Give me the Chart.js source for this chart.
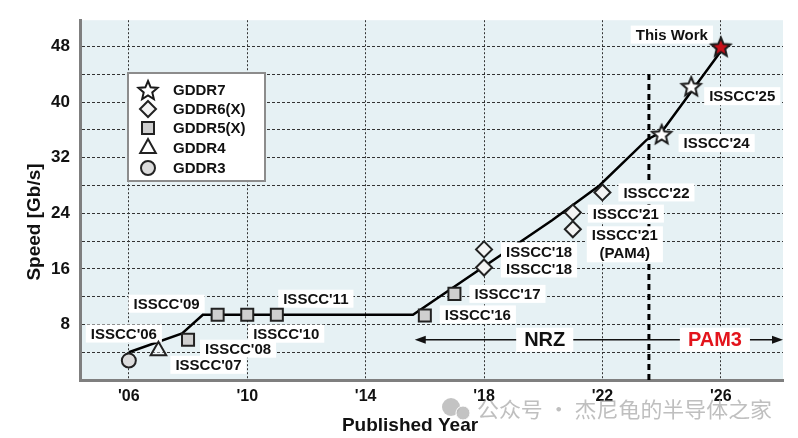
<!DOCTYPE html>
<html>
<head>
<meta charset="utf-8">
<script src="https://cdn.jsdelivr.net/npm/chart.js@4.4.1/dist/chart.umd.min.js"></script>
<style>
  html, body { margin: 0; padding: 0; background: #fff; }
</style>
</head>
<body>
<canvas id="myChart" width="798" height="438"></canvas>
<script>
// ---- data ----
const xTickYears = [2006, 2010, 2014, 2018, 2022, 2026]
const yTickValues = [4, 8, 12, 16, 20, 24, 28, 32, 36, 40, 44, 48]

const gddr3Years = [2006]
const gddr3Speed = [2.8]
const gddr3Labels = ["ISSCC'06"]

const gddr4Years = [2007]
const gddr4Speed = [4.2]
const gddr4Labels = ["ISSCC'07"]

const gddr5Years = [2008, 2009, 2010, 2011, 2016, 2017]
const gddr5Speed = [5.8, 9.4, 9.4, 9.4, 9.3, 12.4]
const gddr5Labels = ["ISSCC'08", "ISSCC'09", "ISSCC'10", "ISSCC'11", "ISSCC'16", "ISSCC'17"]

const gddr6Years = [2018, 2018, 2021, 2021, 2022]
const gddr6Speed = [18.8, 16.2, 24.1, 21.7, 27.0]
const gddr6Labels = ["ISSCC'18", "ISSCC'18", "ISSCC'21", "ISSCC'21\n(PAM4)", "ISSCC'22"]

const gddr7Years = [2024, 2025]
const gddr7Speed = [35.4, 42.3]
const gddr7Labels = ["ISSCC'24", "ISSCC'25"]

const thisWorkYears = [2026]
const thisWorkSpeed = [48]
const thisWorkLabels = ['This Work']

const trendYears = [2006, 2007.8, 2008.5, 2015.6, 2020.3, 2021.9, 2023.5, 2024.0, 2026.1]
const trendSpeed = [4.0, 6.7, 9.4, 9.4, 23.0, 28.0, 34.6, 35.7, 47.9]

const boundaryYears = [2023.57, 2023.57]
const boundarySpeed = [0, 44.6]

const regimeLabels = ['NRZ', 'PAM3']
const regimeCenters = [2020.05, 2025.8]
const regimeArrowFrom = 2015.66
const regimeArrowTo = 2028.1
const regimeArrowSpeed = 5.8

const legendNames = ['GDDR7', 'GDDR6(X)', 'GDDR5(X)', 'GDDR4', 'GDDR3']

// ---- styling ----
const FONT = '"Liberation Sans", Arial, sans-serif'
const canvas = document.getElementById('myChart')

function starPath(ctx, cx, cy, R, r) {
    ctx.beginPath()
    for (let i = 0; i < 10; i++) {
        const rad = i % 2 ? r : R
        const a = -Math.PI / 2 + i * Math.PI / 5
        const px = cx + rad * Math.cos(a), py = cy + rad * Math.sin(a)
        if (i === 0) ctx.moveTo(px, py); else ctx.lineTo(px, py)
    }
    ctx.closePath()
}

function makeStar(fill, R) {
    const c = document.createElement('canvas')
    const s = Math.ceil(R * 2 + 6)
    c.width = s; c.height = s
    const g = c.getContext('2d')
    starPath(g, s / 2, s / 2 + 1, R, R * 0.45)
    g.fillStyle = fill
    g.fill()
    g.lineWidth = 2
    g.strokeStyle = '#1a1a1a'
    g.stroke()
    return c
}

const whiteStar = makeStar('#ffffff', 10)
const redStar = makeStar('#c8101a', 10)

const pts = (xs, ys) => xs.map((x, i) => ({ x: x, y: ys[i] }))

const labelOffsets = {
    gddr3: [[-5, -27]],
    gddr4: [[50, 14]],
    gddr5: [[50, 9], [-51, -11], [39, 19], [39, -16], [53, -1], [53, 0]],
    gddr6: [[55, 2], [55, 1], [53, 1], [52, 6], [54, 0]],
    gddr7: [[55, 9], [51, 10]],
    thisWork: [[-49, -12]]
}

const labelSets = [
    { years: gddr3Years, speed: gddr3Speed, labels: gddr3Labels, off: labelOffsets.gddr3 },
    { years: gddr4Years, speed: gddr4Speed, labels: gddr4Labels, off: labelOffsets.gddr4 },
    { years: gddr5Years, speed: gddr5Speed, labels: gddr5Labels, off: labelOffsets.gddr5 },
    { years: gddr6Years, speed: gddr6Speed, labels: gddr6Labels, off: labelOffsets.gddr6 },
    { years: gddr7Years, speed: gddr7Speed, labels: gddr7Labels, off: labelOffsets.gddr7 },
    { years: thisWorkYears, speed: thisWorkSpeed, labels: thisWorkLabels, off: labelOffsets.thisWork }
]

function drawLabelBox(ctx, lines, cx, cy, font, color, padX) {
    ctx.font = font
    const w = Math.max(...lines.map(l => ctx.measureText(l).width)) + padX * 2
    const lh = 18
    const h = lh * lines.length
    ctx.fillStyle = '#ffffff'
    ctx.fillRect(cx - w / 2, cy - lh / 2, w, h)
    ctx.fillStyle = color
    ctx.textAlign = 'center'
    ctx.textBaseline = 'middle'
    lines.forEach((l, i) => ctx.fillText(l, cx, cy + i * lh + 1))
}

function legendMarker(ctx, kind, x, y) {
    ctx.save()
    ctx.lineWidth = 2
    ctx.strokeStyle = '#222'
    if (kind === 0) {
        ctx.drawImage(whiteStar, x - whiteStar.width / 2, y - whiteStar.height / 2)
        ctx.restore()
        return
    }
    ctx.beginPath()
    if (kind === 1) {
        ctx.moveTo(x, y - 8); ctx.lineTo(x + 8, y); ctx.lineTo(x, y + 8); ctx.lineTo(x - 8, y); ctx.closePath()
        ctx.fillStyle = '#f4f4f4'
    } else if (kind === 2) {
        ctx.rect(x - 6, y - 6, 12, 12)
        ctx.fillStyle = '#cfcfcf'
    } else if (kind === 3) {
        ctx.moveTo(x, y - 9); ctx.lineTo(x + 7.8, y + 5); ctx.lineTo(x - 7.8, y + 5); ctx.closePath()
        ctx.fillStyle = '#ffffff'
    } else {
        ctx.arc(x, y, 7, 0, Math.PI * 2)
        ctx.fillStyle = '#dcdcdc'
    }
    ctx.fill()
    ctx.stroke()
    ctx.restore()
}

const decor = {
    id: 'decor',
    beforeDraw(chart) {
        const { ctx, chartArea: a } = chart
        ctx.save()
        ctx.fillStyle = '#ffffff'
        ctx.fillRect(0, 0, chart.width, chart.height)
        ctx.fillStyle = '#e6f1f4'
        ctx.fillRect(a.left, a.top, a.right - a.left, a.bottom - a.top)
        ctx.restore()
    },
    afterDatasetDraw(chart, args) {
        if (args.index !== 1) return
        const { ctx, scales: { x, y } } = chart
        ctx.save()
        // point labels
        labelSets.forEach(set => {
            set.years.forEach((yr, i) => {
                const px = x.getPixelForValue(yr) + set.off[i][0]
                const py = y.getPixelForValue(set.speed[i]) + set.off[i][1]
                drawLabelBox(ctx, set.labels[i].split('\n'), px, py, 'bold 15px ' + FONT, '#111', 5)
            })
        })
        // NRZ / PAM3 arrow
        const ay = y.getPixelForValue(regimeArrowSpeed)
        const ax1 = x.getPixelForValue(regimeArrowFrom)
        const ax2 = x.getPixelForValue(regimeArrowTo)
        ctx.strokeStyle = '#111'
        ctx.fillStyle = '#111'
        ctx.lineWidth = 1.5
        ctx.beginPath(); ctx.moveTo(ax1 + 6, ay); ctx.lineTo(ax2 - 6, ay); ctx.stroke()
        ctx.beginPath(); ctx.moveTo(ax1, ay); ctx.lineTo(ax1 + 11, ay - 4); ctx.lineTo(ax1 + 11, ay + 4); ctx.closePath(); ctx.fill()
        ctx.beginPath(); ctx.moveTo(ax2, ay); ctx.lineTo(ax2 - 11, ay - 4); ctx.lineTo(ax2 - 11, ay + 4); ctx.closePath(); ctx.fill()
        regimeLabels.forEach((t, i) => {
            const cx = x.getPixelForValue(regimeCenters[i])
            ctx.font = 'bold 20px ' + FONT
            const w = ctx.measureText(t).width + 16
            ctx.fillStyle = '#ffffff'
            ctx.fillRect(cx - w / 2, ay - 12, w, 24)
            ctx.fillStyle = i === 0 ? '#111' : '#e3141c'
            ctx.textAlign = 'center'
            ctx.textBaseline = 'middle'
            ctx.fillText(t, cx, ay + 1)
        })
        ctx.restore()
    },
    afterDraw(chart) {
        const { ctx } = chart
        ctx.save()
        // legend
        ctx.fillStyle = '#ffffff'
        ctx.fillRect(128, 73, 137, 108)
        ctx.strokeStyle = '#8c8c8c'
        ctx.lineWidth = 2
        ctx.strokeRect(128, 73, 137, 108)
        const rows = [90, 109, 128, 148, 168]
        legendNames.forEach((n, i) => {
            legendMarker(ctx, i, 148, rows[i])
            ctx.fillStyle = '#111'
            ctx.font = 'bold 15px ' + FONT
            ctx.textAlign = 'left'
            ctx.textBaseline = 'middle'
            ctx.fillText(n, 173, rows[i] + 1)
        })
        // axis titles
        ctx.font = 'bold 19px ' + FONT
        ctx.fillStyle = '#111'
        ctx.textAlign = 'center'
        ctx.textBaseline = 'alphabetic'
        ctx.fillText('Published Year', 410, 431)
        ctx.save()
        ctx.translate(40, 222)
        ctx.rotate(-Math.PI / 2)
        ctx.fillText('Speed [Gb/s]', 0, 0)
        ctx.restore()
        // watermark
        ctx.fillStyle = 'rgba(185,185,185,0.85)'
        ctx.beginPath(); ctx.arc(451, 407, 9, 0, Math.PI * 2); ctx.fill()
        ctx.beginPath(); ctx.arc(463, 413, 7, 0, Math.PI * 2); ctx.fill()
        ctx.strokeStyle = '#ffffff'; ctx.lineWidth = 1
        ctx.beginPath(); ctx.arc(463, 413, 7, 0, Math.PI * 2); ctx.stroke()
        ctx.font = '21px "Noto Sans CJK SC", sans-serif'
        ctx.textAlign = 'left'
        ctx.textBaseline = 'middle'
        const wm = '公众号 · 杰尼龟的半导体之家'
        const ww = ctx.measureText(wm).width
        ctx.translate(477, 409)
        ctx.scale(295 / ww, 1)
        ctx.fillStyle = 'rgba(175,175,175,0.8)'
        ctx.fillText(wm, 0, 0)
        ctx.restore()
    }
}

const markerBase = { borderColor: '#222', borderWidth: 2, showLine: false, order: 0 }

const config = {
    type: 'scatter',
    data: {
        datasets: [
            {
                label: 'boundary', data: pts(boundaryYears, boundarySpeed), showLine: true,
                borderColor: '#000', borderWidth: 3, borderDash: [6, 4], pointRadius: 0, order: 11
            },
            {
                label: 'trend', data: pts(trendYears, trendSpeed), showLine: true,
                borderColor: '#000', borderWidth: 2.5, pointRadius: 0, tension: 0, order: 10
            },
            Object.assign({}, markerBase, {
                label: 'GDDR3', data: pts(gddr3Years, gddr3Speed),
                pointStyle: 'circle', pointRadius: 7, backgroundColor: '#dcdcdc'
            }),
            Object.assign({}, markerBase, {
                label: 'GDDR4', data: pts(gddr4Years, gddr4Speed),
                pointStyle: 'triangle', pointRadius: 9, backgroundColor: 'rgba(255,255,255,0.35)'
            }),
            Object.assign({}, markerBase, {
                label: 'GDDR5(X)', data: pts(gddr5Years, gddr5Speed),
                pointStyle: 'rect', pointRadius: 8.5, backgroundColor: '#cfcfcf'
            }),
            Object.assign({}, markerBase, {
                label: 'GDDR6(X)', data: pts(gddr6Years, gddr6Speed),
                pointStyle: 'rectRot', pointRadius: 8, backgroundColor: '#f4f4f4'
            }),
            Object.assign({}, markerBase, {
                label: 'GDDR7', data: pts(gddr7Years, gddr7Speed), pointStyle: whiteStar, pointRadius: 10
            }),
            Object.assign({}, markerBase, {
                label: 'This Work', data: pts(thisWorkYears, thisWorkSpeed), pointStyle: redStar, pointRadius: 10
            })
        ]
    },
    options: {
        responsive: false,
        animation: false,
        devicePixelRatio: 1,
        layout: { padding: { left: 0, right: 15, top: 20, bottom: 0 } },
        plugins: { legend: { display: false }, tooltip: { enabled: false } },
        scales: {
            x: {
                type: 'linear', min: 2004.35, max: 2028.1,
                afterFit: s => { s.height = 58 },
                afterBuildTicks: s => { s.ticks = xTickYears.map(v => ({ value: v })) },
                ticks: {
                    autoSkip: false, padding: 7, color: '#111',
                    font: { family: FONT, size: 16, weight: 'bold' },
                    callback: v => "'" + String(v).slice(2)
                },
                grid: { color: '#333', lineWidth: 1, drawTicks: false },
                border: { display: true, color: '#7f7f7f', width: 3, dash: [2, 2] }
            },
            y: {
                type: 'linear', min: 0, max: 51.8,
                afterFit: s => { s.width = 80 },
                afterBuildTicks: s => { s.ticks = yTickValues.map(v => ({ value: v })) },
                ticks: {
                    autoSkip: false, padding: 10, color: '#111',
                    font: { family: FONT, size: 17, weight: 'bold' },
                    callback: v => (v % 8 === 0 ? v : '')
                },
                grid: { color: '#333', lineWidth: 1, drawTicks: false },
                border: { display: true, color: '#7f7f7f', width: 3, dash: [3, 2] }
            }
        }
    },
    plugins: [decor]
}

const myChart = new Chart(canvas, config)
</script>
</body>
</html>
